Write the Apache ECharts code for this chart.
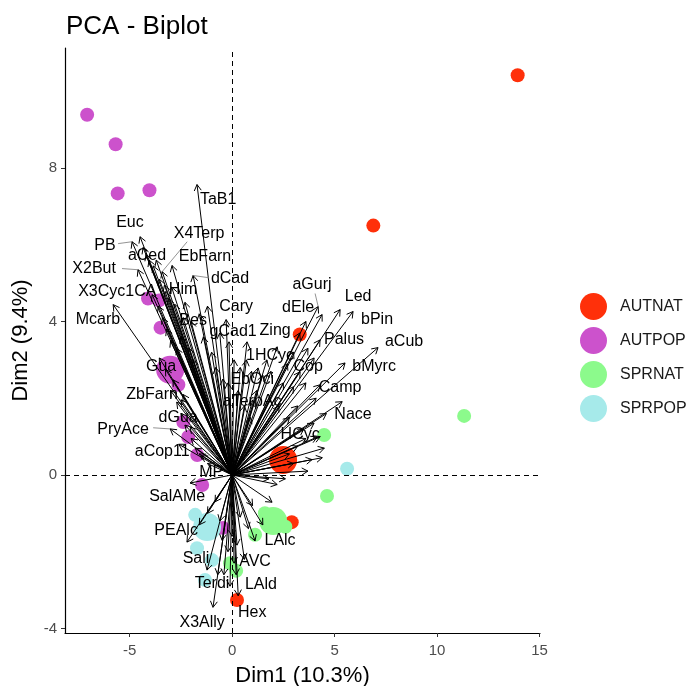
<!DOCTYPE html>
<html><head><meta charset="utf-8">
<script src="https://cdn.jsdelivr.net/npm/echarts@6/dist/echarts.min.js"></script>
<style>html,body{margin:0;padding:0;background:#fff}#c{width:697px;height:686px}</style>
</head><body><div id="c"></div>
<script>
// ---------- data ----------
const groups = ['AUTNAT', 'AUTPOP', 'SPRNAT', 'SPRPOP'];
const groupColors = ['#FF300A', '#CC52CC', '#8CFA8C', '#A6EAEA'];

const autnatDim1 = [13.93, 6.89, 3.30, 2.91, 0.24];
const autnatDim2 = [10.42, 6.50, 3.66, -1.23, -3.26];
const autpopDim1 = [-7.07, -5.68, -5.58, -4.03, -4.10, -3.56, -3.49, -2.62, -2.38, -2.14, -1.70, -1.46, -0.44];
const autpopDim2 = [9.39, 8.62, 7.34, 7.42, 4.60, 4.55, 3.84, 2.35, 1.38, 0.99, 0.52, -0.26, -1.38];
const sprnatDim1 = [11.32, 4.49, 4.63, -0.10, 1.12, 0.20, 2.60, 1.60];
const sprnatDim2 = [1.54, 1.04, -0.55, -2.30, -1.56, -2.50, -1.35, -1.00];
const sprpopDim1 = [5.61, -1.80, -1.71, -0.98, -1.32, -1.40];
const sprpopDim2 = [0.16, -1.04, -1.91, -2.22, -2.74, -1.20];

// group mean points
const meanDim1 = [2.49, -3.02, 2.00, -1.22];
const meanDim2 = [0.39, 2.74, -1.20, -1.36];

// labelled variable arrows (tip) and their label positions
const varNames = ['TaB1','Euc','PB','aCed','X4Terp','EbFarn','X2But','dCad','X3Cyc1CA','Him','Mcarb','Cary','Bes',
  'gCad1','Zing','1HCyc','EbOci','aTerpAc','aGurj','dEle','Led','bPin','Palus','aCub','Cop','bMyrc','Camp','Nace','HCyc',
  'SalAMe','PEAlc','Sali','Terdi','X3Ally','AVC','LAld','Hex','LAlc','Gua','ZbFarn','dGua','PryAce','aCop11','MP'];
const varDim1 = [-1.71,-4.49,-4.88,-4.34,-3.41,-2.93,-4.59,-1.90,-3.90,-3.27,-5.80,-0.29,-2.39,
  -0.15,2.20,0.73,1.27,1.00,4.20,4.39,5.27,5.90,4.29,7.12,3.32,5.51,4.29,5.37,4.15,
  -0.83,-2.20,-1.22,-0.70,-0.93,0.24,0.20,0.30,1.12,-2.88,-2.49,-2.05,-3.02,-1.60,-2.05];
const varDim2 = [7.57,6.21,6.08,5.93,5.30,5.46,5.35,5.20,4.70,4.78,4.44,4.05,4.10,
  3.47,3.34,3.47,2.79,1.95,4.39,4.18,4.31,4.26,3.52,3.32,2.69,2.92,2.35,1.91,0.99,
  -0.70,-1.75,-2.48,-2.60,-3.45,-1.83,-2.60,-3.15,-1.72,2.48,1.96,1.25,1.20,0.55,-0.21];
const labelDim1 = [-0.68,-4.98,-6.20,-4.15,-1.61,-1.32,-6.73,-0.10,-5.60,-2.39,-6.54,0.20,-1.90,
  0.05,2.10,1.85,0.98,0.98,3.90,3.22,6.15,7.07,5.46,8.39,3.71,6.93,5.27,5.90,3.32,
  -2.68,-2.73,-1.76,-0.98,-1.46,1.12,1.41,0.98,2.34,-3.46,-3.90,-2.63,-5.32,-3.41,-1.02];
const labelDim2 = [7.18,6.58,5.98,5.72,6.29,5.69,5.38,5.12,4.78,4.83,4.05,4.39,4.02,
  3.73,3.76,3.11,2.48,1.91,4.96,4.36,4.65,4.05,3.52,3.47,2.82,2.82,2.27,1.57,1.04,
  -0.57,-1.44,-2.17,-2.82,-3.84,-2.27,-2.87,-3.60,-1.70,2.82,2.09,1.49,1.17,0.60,0.05];

// unlabelled variable arrows (tips)
const otherDim1 = [-4.20,-4.05,-3.85,-3.70,-3.55,-3.30,-3.10,-2.95,-2.80,-3.60,-3.40,-3.20,-3.00,-2.70,-2.50,-2.30,-2.10,-1.90,-1.60,-1.40,-1.20,-1.00,-0.80,-0.60,-0.45,-2.00,-3.55,-3.25,
  0.10,0.40,0.70,0.95,0.30,0.60,1.20,1.50,-0.20,0.90,1.70,1.90,
  3.60,3.30,3.00,2.70,3.70,4.00,2.50,3.00,3.60,4.10,3.20,4.60,2.30,2.80,4.00,3.50,
  4.50,4.40,3.70,3.20,3.60,2.80,2.60,2.20,1.80,3.90,4.30,3.00,
  1.95,1.50,0.80,0.60,1.00,
  -0.20,-0.40,-0.49,-1.20,-0.60,0.00,0.40,-0.10,0.10,-1.60,
  -3.00,-2.70,-2.50,-2.30,-1.80,-1.50,-1.20,-2.00,-2.60,-2.40];
const otherDim2 = [5.75,5.60,5.45,5.60,5.10,4.95,4.60,4.90,4.45,4.40,4.10,3.80,3.50,3.30,3.60,4.50,3.30,3.00,4.20,3.60,4.40,3.20,2.80,3.70,2.50,4.00,3.05,2.75,
  3.00,2.80,3.00,2.70,2.20,1.80,2.20,2.60,2.40,1.50,3.00,2.70,
  4.00,3.70,3.20,2.90,3.30,3.05,2.40,2.30,2.40,2.00,1.80,1.60,1.80,1.50,1.35,1.20,
  0.70,0.45,0.10,0.75,0.95,0.55,-0.10,-0.25,-0.10,0.40,1.00,0.30,
  -0.71,-1.30,-1.40,-2.20,-0.80,
  -2.00,-2.60,-1.70,-1.00,-1.20,-1.60,-1.10,-2.90,-2.30,-1.30,
  2.20,1.90,1.60,1.30,0.70,0.50,0.30,0.95,0.80,2.10];

// repel leader segments: start (near label) -> arrow tip of named variable
const leaderNames = ['PB', 'X2But', 'X4Terp', 'dCad', 'aGurj', 'PryAce'];
const leaderDim1 = [-5.56, -5.37, -2.19, -1.12, 4.05, -3.85];
const leaderDim2 = [6.03, 5.38, 6.08, 5.14, 4.73, 1.23];

const xTicks = [-5, 0, 5, 10, 15];
const yTicks = [-4, 0, 4, 8];

// ---------- chart ----------
const FONT = '"Liberation Sans", Arial, Helvetica, sans-serif';
const chart = echarts.init(document.getElementById('c'), null, {renderer: 'canvas'});

const pts = [[autnatDim1, autnatDim2], [autpopDim1, autpopDim2], [sprnatDim1, sprnatDim2], [sprpopDim1, sprpopDim2]];
const series = [];

// dashed reference lines
series.push({
  type: 'scatter', data: [], z: 1, silent: true,
  markLine: {
    silent: true, symbol: 'none', animation: false,
    label: {show: false},
    lineStyle: {color: '#000', width: 1, type: [5, 4]},
    data: [{xAxis: 0}, {yAxis: 0}]
  }
});

groups.forEach((g, i) => {
  series.push({
    name: g, type: 'scatter', z: 2, symbolSize: 14,
    itemStyle: {color: groupColors[i], opacity: 1},
    data: pts[i][0].map((x, k) => [x, pts[i][1][k]])
  });
});
groups.forEach((g, i) => {
  series.push({
    name: g, type: 'scatter', z: 3, symbolSize: 28,
    itemStyle: {color: groupColors[i], opacity: 1},
    data: [[meanDim1[i], meanDim2[i]]]
  });
});

function arrowRender(params, api) {
  const o = api.coord([0, 0]);
  const p = api.coord([api.value(0), api.value(1)]);
  const ang = Math.atan2(p[1] - o[1], p[0] - o[0]);
  const L = 7, A = Math.PI / 6;
  const h1 = [p[0] - L * Math.cos(ang - A), p[1] - L * Math.sin(ang - A)];
  const h2 = [p[0] - L * Math.cos(ang + A), p[1] - L * Math.sin(ang + A)];
  return {type: 'group', children: [
    {type: 'line', shape: {x1: o[0], y1: o[1], x2: p[0], y2: p[1]}, style: {stroke: '#000', lineWidth: 1}},
    {type: 'polyline', shape: {points: [h1, p, h2]}, style: {stroke: '#000', lineWidth: 1, fill: null}}
  ]};
}
const allDim1 = varDim1.concat(otherDim1);
const allDim2 = varDim2.concat(otherDim2);
series.push({
  type: 'custom', z: 4, silent: true, clip: false,
  renderItem: arrowRender,
  data: allDim1.map((x, k) => [x, allDim2[k]])
});

// leader segments
series.push({
  type: 'custom', z: 4, silent: true,
  renderItem: function (params, api) {
    const s = api.coord([api.value(0), api.value(1)]);
    const t = api.coord([api.value(2), api.value(3)]);
    return {type: 'line', shape: {x1: s[0], y1: s[1], x2: t[0], y2: t[1]}, style: {stroke: '#777', lineWidth: 0.8}};
  },
  data: leaderNames.map((n, k) => {
    const j = varNames.indexOf(n);
    return [leaderDim1[k], leaderDim2[k], varDim1[j], varDim2[j]];
  })
});

// variable labels
series.push({
  type: 'custom', z: 5, silent: true, clip: false,
  renderItem: function (params, api) {
    const c = api.coord([api.value(0), api.value(1)]);
    return {type: 'text', x: c[0], y: c[1], style: {
      text: varNames[params.dataIndex], fill: '#000', font: '16px ' + FONT,
      align: 'center', verticalAlign: 'middle'}};
  },
  data: labelDim1.map((x, k) => [x, labelDim2[k]])
});

chart.setOption({
  animation: false,
  backgroundColor: '#fff',
  title: {text: 'PCA - Biplot', left: 61, top: 9,
    textStyle: {fontSize: 26, fontWeight: 'normal', color: '#000', fontFamily: FONT}},
  legend: {
    data: groups, orient: 'vertical', left: 575, top: 288,
    itemWidth: 27, itemHeight: 27, itemGap: 7, icon: 'circle',
    textStyle: {fontSize: 16, color: '#1a1a1a', fontFamily: FONT, padding: [0, 0, 0, 8]}
  },
  grid: {left: 65, right: 157, top: 48, bottom: 53, containLabel: false, outerBoundsMode: 'none'},
  xAxis: {
    type: 'value', min: -8.15, max: 15.02,
    name: 'Dim1 (10.3%)', nameLocation: 'middle', nameGap: 32,
    nameTextStyle: {fontSize: 22, color: '#000', fontFamily: FONT},
    axisLine: {show: true, onZero: false, lineStyle: {color: '#000', width: 1.2}},
    axisTick: {show: true, length: 4, customValues: xTicks, lineStyle: {color: '#333', width: 1}},
    axisLabel: {customValues: xTicks, color: '#4D4D4D', fontSize: 15, margin: 10, fontFamily: FONT},
    splitLine: {show: false}
  },
  yAxis: {
    type: 'value', min: -4.12, max: 11.13,
    name: 'Dim2 (9.4%)', nameLocation: 'middle', nameGap: 33, nameRotate: 90,
    nameTextStyle: {fontSize: 22, color: '#000', fontFamily: FONT},
    axisLine: {show: true, onZero: false, lineStyle: {color: '#000', width: 1.2}},
    axisTick: {show: true, length: 4, customValues: yTicks, lineStyle: {color: '#333', width: 1}},
    axisLabel: {customValues: yTicks, color: '#4D4D4D', fontSize: 15, margin: 8, fontFamily: FONT},
    splitLine: {show: false}
  },
  series: series
});
</script>
</body></html>
